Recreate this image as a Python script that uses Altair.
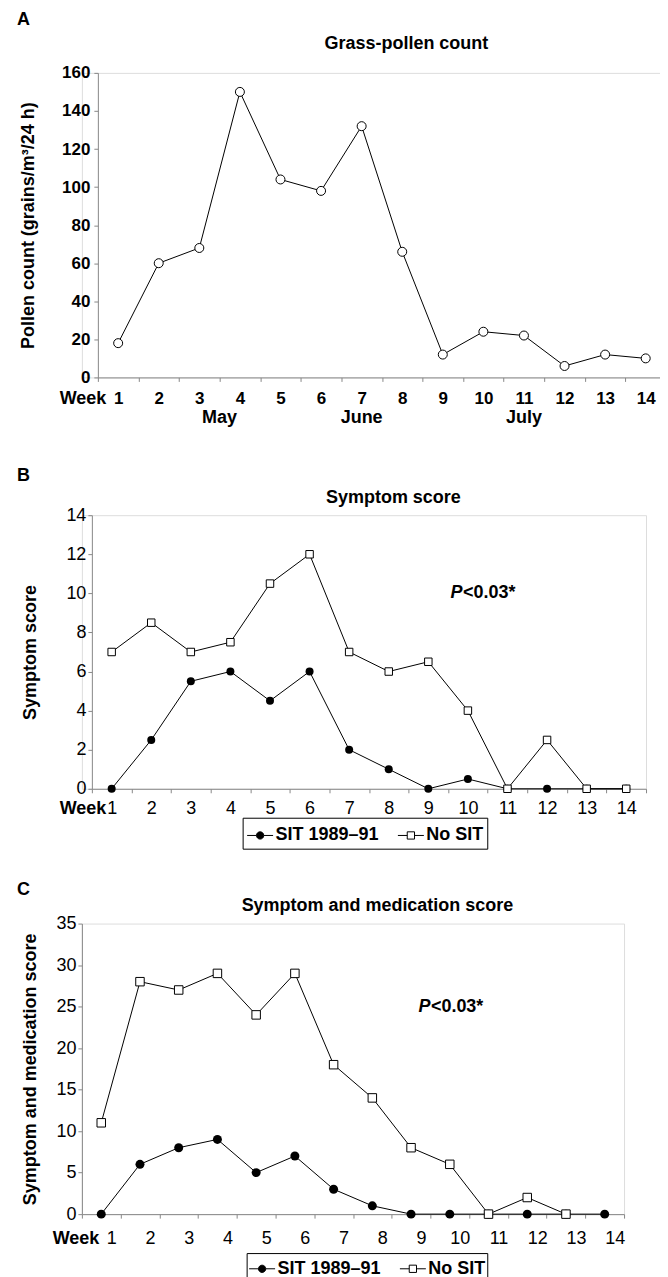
import altair as alt
import pandas as pd

FONT = "Liberation Sans"

# ---------------- data ----------------
weeks = list(range(1, 15))
pollen = [18, 60, 68, 150, 104, 98, 132, 66, 12, 24, 22, 6, 12, 10]
months = ["May", "June", "July"]
month_weeks = [3.5, 7, 11]

series_names = ["SIT 1989–91", "No SIT"]
sit_symptom = [0, 2.5, 5.5, 6, 4.5, 6, 2, 1, 0, 0.5, 0, 0, 0, 0]
nosit_symptom = [7, 8.5, 7, 7.5, 10.5, 12, 7, 6, 6.5, 4, 0, 2.5, 0, 0]
sit_combined = [0, 6, 8, 9, 5, 7, 3, 1, 0, 0, 0, 0, 0, 0]
nosit_combined = [11, 28, 27, 29, 24, 29, 18, 14, 8, 6, 0, 2, 0, None]


def long_df(sit, nosit):
    rows = []
    for name, vals in zip(series_names, [sit, nosit]):
        for w, v in zip(weeks, vals):
            if v is not None:
                rows.append({"week": w, "value": v, "series": name})
    return pd.DataFrame(rows)


AXIS_GRAY = "#555555"


def x_scale(r0, r1):
    return alt.Scale(domain=[0.5, 14.5], nice=False, zero=False, range=[r0, r1])


def x_axis(band, title_x, label_y, label_size, bold, extra=0.0):
    return alt.Axis(
        values=[i + 0.5 for i in range(15)],
        tickCount=40,
        labelExpr="datum.value > 1 ? format(datum.value - 0.5, 'd') : ''",
        labelOffset=-band / 2 + extra,
        labelFlush=False,
        labelOverlap=False,
        labelBaseline="middle",
        labelPadding=label_y - 4,
        labelFontSize=label_size,
        labelFontWeight="bold" if bold else "normal",
        tickSize=4,
        grid=False,
        title="Week",
        titleX=title_x,
        titleY=label_y,
        titleAlign="right",
        titleBaseline="middle",
        titleFontSize=18,
        titleFontWeight="bold",
    )


def y_axis(values, title, title_x, label_size, bold, pad, offset):
    return alt.Axis(
        values=values,
        tickCount=40,
        format="d",
        offset=offset,
        tickSize=4,
        labelPadding=pad,
        labelOverlap=False,
        labelFlush=False,
        labelFontSize=label_size,
        labelFontWeight="bold" if bold else "normal",
        labelBaseline="middle",
        grid=False,
        title=title,
        titleX=title_x,
        titleBaseline="middle",
        titleFontSize=18,
        titleFontWeight="bold",
    )


def text_mark(txt, x, y, align="left", size=18, weight="bold", style="normal", opacity=1):
    return (
        alt.Chart(pd.DataFrame({"t": [txt]}))
        .mark_text(font=FONT, fontSize=size, fontWeight=weight, fontStyle=style,
                   align=align, baseline="middle", color="black", opacity=opacity)
        .encode(x=alt.value(x), y=alt.value(y), text="t:N")
    )


def p_value(xd, yd):
    p = (alt.Chart(pd.DataFrame({"t": ["P"]}))
         .mark_text(font=FONT, fontSize=18, fontWeight="bold", fontStyle="italic",
                    align="left", baseline="middle", color="black")
         .encode(x=alt.datum(xd), y=alt.datum(yd), text="t:N"))
    rest = (alt.Chart(pd.DataFrame({"t": ["<0.03*"]}))
            .mark_text(font=FONT, fontSize=18, fontWeight="bold", align="left",
                       baseline="middle", color="black", dx=12.5)
            .encode(x=alt.datum(xd), y=alt.datum(yd), text="t:N"))
    return [p, rest]


CIRCLE_PATH = "M-1,0H-0.28M0.28,0H1M-0.28,0A0.28,0.28 0 1,1 0.28,0A0.28,0.28 0 1,1 -0.28,0Z"
SQUARE_PATH = "M-1,0H-0.28M0.28,0H1M-0.28,-0.28H0.28V0.28H-0.28Z"


def legend(lx, ly, pad):
    return alt.Legend(
        title=None, orient="none", legendX=lx, legendY=ly, direction="horizontal",
        strokeColor="black", fillColor="white", padding=pad, cornerRadius=0,
        labelFont=FONT, labelFontSize=18, labelFontWeight="bold", labelColor="black",
        symbolSize=676, symbolStrokeWidth=1, symbolStrokeColor="black", symbolOpacity=1,
        columnPadding=16, labelOffset=2,
    )


# All panels share a common plot origin; each panel's own y axis is shifted
# inward so that the axes sit where the reference puts them.

# ---------------- panel A ----------------
A_SHIFT, A_AX, A_H = 16, 569, 305
A_W = A_SHIFT + A_AX
df_a = pd.DataFrame({"week": weeks, "value": pollen})
xA = alt.X("week:Q", scale=x_scale(A_SHIFT, A_W), axis=x_axis(A_AX / 14, 24, 21, 17, True))
yA = alt.Y("value:Q", scale=alt.Scale(domain=[0, 160], nice=False),
           axis=y_axis(list(range(0, 161, 20)), "Pollen count (grains/m³/24 h)", -69, 17, True, 4,
                       -A_SHIFT))
line_a = alt.Chart(df_a).mark_line(color="black", strokeWidth=1).encode(x=xA, y=yA)
pts_a = alt.Chart(df_a).mark_point(shape="circle", filled=True, fill="white", stroke="black",
                                   strokeWidth=1, size=81, opacity=1).encode(x="week:Q", y="value:Q")
month_a = (alt.Chart(pd.DataFrame({"week": month_weeks, "month": months}))
           .mark_text(font=FONT, fontSize=18, fontWeight="bold", baseline="middle", color="black")
           .encode(x="week:Q", y=alt.value(A_H + 41), text="month:N"))
panel_a = alt.layer(
    line_a, pts_a, month_a,
    text_mark("A", -65, -53),
    text_mark("Grass-pollen count", 325, -29, align="center"),
    text_mark("May", 200, A_H + 49, opacity=0),
).properties(width=A_W, height=A_H)


# ---------------- panels B and C ----------------
def score_panel(sit, nosit, shift, axis_w, height, ymax, ystep, ytitle, ytitle_x, week_x, label_y,
                letter, letter_y, title, title_x, title_y, dot_size, sq_size, px, py,
                lx, ly, lpad, extra):
    width = shift + axis_w
    df = long_df(sit, nosit)
    x = alt.X("week:Q", scale=x_scale(shift, width),
              axis=x_axis(axis_w / 14, week_x, label_y, 18, False, extra))
    y = alt.Y("value:Q", scale=alt.Scale(domain=[0, ymax], nice=False),
              axis=y_axis(list(range(0, ymax + 1, ystep)), ytitle, ytitle_x, 18, False, 2, -shift))
    lines = alt.Chart(df).mark_line(color="black", strokeWidth=1).encode(
        x=x, y=y, detail="series:N")
    dots = (alt.Chart(df).transform_filter(alt.datum.series == series_names[0])
            .mark_point(shape="circle", filled=True, color="black", size=dot_size, opacity=1)
            .encode(x="week:Q", y="value:Q"))
    squares = (alt.Chart(df).transform_filter(alt.datum.series == series_names[1])
               .mark_point(shape="square", filled=True, fill="white", stroke="black",
                           strokeWidth=1, size=sq_size, opacity=1)
               .encode(x="week:Q", y="value:Q"))
    leg = legend(lx, ly, lpad)
    leg_layer = (alt.Chart(df).mark_point(opacity=0, strokeWidth=1)
                 .encode(x="week:Q", y="value:Q",
                         shape=alt.Shape("series:N", scale=alt.Scale(domain=series_names,
                                                                    range=[CIRCLE_PATH, SQUARE_PATH]),
                                         legend=leg),
                         fill=alt.Fill("series:N", scale=alt.Scale(domain=series_names,
                                                                  range=["black", "white"]),
                                       legend=leg),
                         stroke=alt.Stroke("series:N", scale=alt.Scale(domain=series_names,
                                                                      range=["black", "black"]),
                                           legend=leg)))
    layers = [lines, dots, squares, leg_layer] + p_value(px, py) + [
        text_mark(letter, -65, letter_y),
        text_mark(title, title_x, title_y, align="center"),
    ]
    return alt.layer(*layers).properties(width=width, height=height)


panel_b = score_panel(sit_symptom, nosit_symptom, 10, 555, 274, 14, 2, "Symptom score", -61, 24, 20,
                      "B", -39, "Symptom score", 312, -17, 64, 56, 9.56, 10, 161, 303, 4, 0)
panel_c = score_panel(sit_combined, nosit_combined, 0, 543, 291, 35, 5,
                      "Symptom and medication score", -51, 17, 24, "C", -34,
                      "Symptom and medication score", 296, -18, 81, 72, 9.19, 25, 165, 330, 2, 10)

chart = alt.concat(
    panel_a, panel_b, panel_c, columns=1, spacing=30, bounds="full",
    padding={"left": 8, "top": 1, "right": -7, "bottom": 0},
).resolve_scale(
    shape="independent", fill="independent", stroke="independent"
).resolve_legend(
    shape="independent", fill="independent", stroke="independent"
).configure_view(stroke="transparent", strokeWidth=0).configure_axis(
    labelFont=FONT, titleFont=FONT, labelColor="black", titleColor="black",
    domainColor=AXIS_GRAY, tickColor=AXIS_GRAY, domainWidth=1, tickWidth=1,
    labelOverlap=False,
).configure(font=FONT)

chart.save("out.html", embed_options={"renderer": "svg", "actions": False})
